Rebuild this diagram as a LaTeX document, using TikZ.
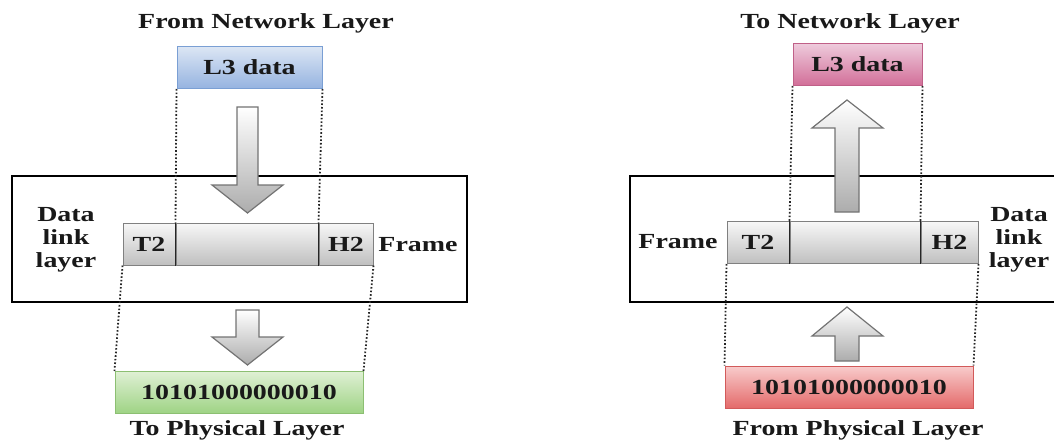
\documentclass[tikz,border=0pt]{standalone}
\usepackage{fontspec}
\setmainfont{Liberation Serif}[FakeStretch=1.3]
\usetikzlibrary{positioning}

\definecolor{blueTop}{HTML}{DCE6F4}
\definecolor{blueBot}{HTML}{95B3E0}
\definecolor{blueLine}{HTML}{7A9FD4}
\definecolor{pinkTop}{HTML}{EECBDC}
\definecolor{pinkBot}{HTML}{D26E98}
\definecolor{pinkLine}{HTML}{C06088}
\definecolor{greenTop}{HTML}{DFF0D4}
\definecolor{greenBot}{HTML}{9ED384}
\definecolor{greenLine}{HTML}{8CBF72}
\definecolor{redTop}{HTML}{F8CCCC}
\definecolor{redBot}{HTML}{E46A6A}
\definecolor{redLine}{HTML}{D25A5A}

\begin{document}
\begin{tikzpicture}[
      x=1pt, y=-1pt,
      every node/.style={font=\bfseries\fontsize{21.5}{23}\selectfont, text=black!90, align=center, inner sep=0pt},
      databox/.style={draw, line width=1pt, minimum height=42pt},
      seg/.style={draw=gray, line width=1pt, top color=gray!6, bottom color=gray!50, minimum height=42pt},
      layerbox/.style={draw, line width=1.5pt, minimum height=126pt},
      guide/.style={line width=1.8pt, dash pattern=on 1.6pt off 2pt, black!85},
      fatarrow/.style={draw=gray!90!black, line width=1.2pt, top color=white, bottom color=gray!65},
      divline/.style={line width=1.8pt, black!85}
    ]
      \clip (0,0) rectangle (1054,441);

      % sending side
      \node (fromnet) at (266,23) {From Network Layer};
      \node[databox, draw=blueLine, top color=blueTop, bottom color=blueBot, minimum width=145pt] (l3s) at (249.5,67.5) {L3 data};
      \node[layerbox, minimum width=455pt] (dlls) at (239.5,239) {};
      \node (dlltxts) at (66,240) {Data\\link\\layer};
      \node[seg, minimum width=52pt] (t2s) at (149,244) {T2};
      \node[seg, minimum width=142pt, right=0pt of t2s] (mids) {};
      \node[seg, minimum width=54pt, right=0pt of mids] (h2s) {H2};
      \node (frames) at (418,245) {Frame};
      \node[databox, draw=greenLine, top color=greenTop, bottom color=greenBot, minimum width=248pt] (bitss) at (239,392.5) {10101000000010};
      \node (tophy) at (237,430) {To Physical Layer};
      \draw[divline] (mids.north west) -- (mids.south west);
      \draw[divline] (mids.north east) -- (mids.south east);
      \draw[guide] (l3s.south west) -- (mids.north west);
      \draw[guide] (l3s.south east) -- (mids.north east);
      \draw[guide] (t2s.south west) -- (bitss.north west);
      \draw[guide] (h2s.south east) -- (bitss.north east);
      \draw[fatarrow] (237,107) -- (258,107) -- (258,185) -- (283,185) -- (247.5,213)
        -- (212,185) -- (237,185) -- cycle;
      \draw[fatarrow] (236,310) -- (259,310) -- (259,337) -- (283,337) -- (247.5,365)
        -- (212,337) -- (236,337) -- cycle;

      % receiving side
      \node (tonet) at (850,23) {To Network Layer};
      \node[databox, draw=pinkLine, top color=pinkTop, bottom color=pinkBot, minimum width=129pt] (l3r) at (857.5,64.5) {L3 data};
      \node[layerbox, minimum width=440pt] (dllr) at (850,239) {};
      \node (dlltxtr) at (1019,240) {Data\\link\\layer};
      \node[seg, minimum width=62pt] (t2r) at (758,242.5) {T2};
      \node[seg, minimum width=130pt, right=0pt of t2r] (midr) {};
      \node[seg, minimum width=57pt, right=0pt of midr] (h2r) {H2};
      \node (framer) at (678,242) {Frame};
      \node[databox, draw=redLine, top color=redTop, bottom color=redBot, minimum width=248pt] (bitsr) at (849,387) {10101000000010};
      \node (fromphy) at (858,430) {From Physical Layer};
      \draw[divline] (midr.north west) -- (midr.south west);
      \draw[divline] (midr.north east) -- (midr.south east);
      \draw[guide] (l3r.south west) -- (midr.north west);
      \draw[guide] (l3r.south east) -- (midr.north east);
      \draw[guide] (t2r.south west) -- (bitsr.north west);
      \draw[guide] (h2r.south east) -- (bitsr.north east);
      \draw[fatarrow] (847,100) -- (883,128) -- (859,128) -- (859,212) -- (835,212)
        -- (835,128) -- (812,128) -- cycle;
      \draw[fatarrow] (847,307) -- (883,336) -- (859,336) -- (859,361) -- (835,361)
        -- (835,336) -- (812,336) -- cycle;
    \end{tikzpicture}
\end{document}
